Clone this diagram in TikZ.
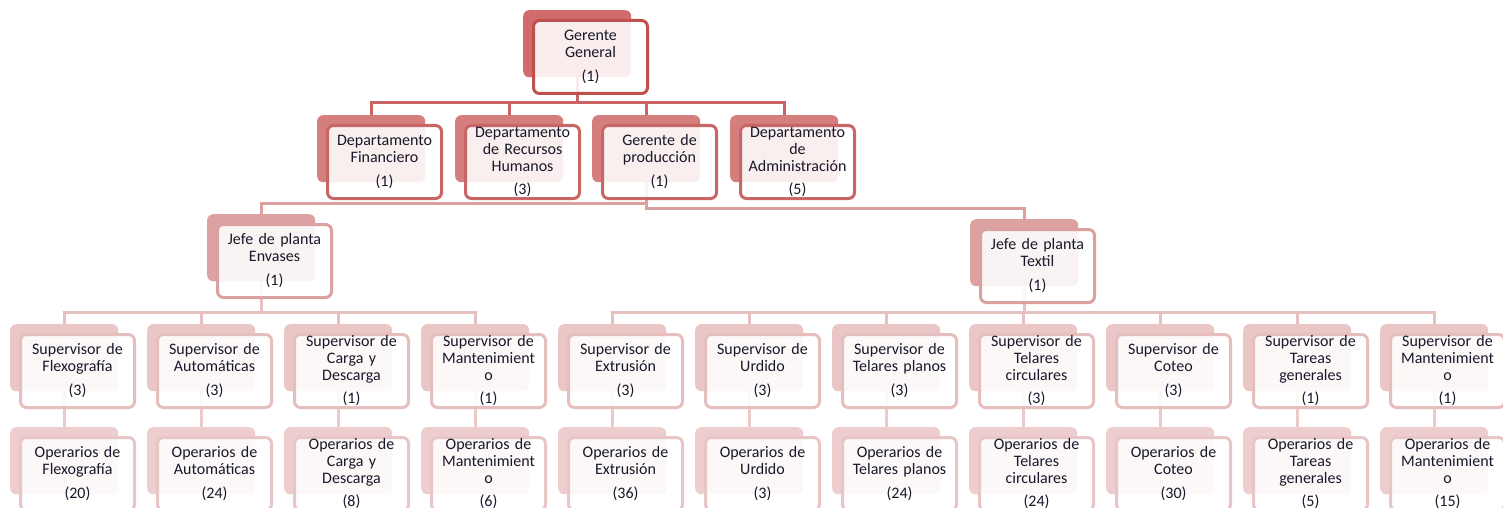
\documentclass[tikz,border=0pt]{standalone}
\usepackage{fontspec}
\setmainfont{Carlito}
\usetikzlibrary{backgrounds,calc}
\definecolor{txt}{HTML}{18182A}
\definecolor{bgA}{HTML}{D06C6C}\definecolor{brA}{HTML}{C0504D}
\definecolor{bgB}{HTML}{D47E7E}\definecolor{brB}{HTML}{C86666}
\definecolor{bgC}{HTML}{DCA2A2}\definecolor{brC}{HTML}{DBA0A0}
\definecolor{bgD}{HTML}{EBC6C6}\definecolor{brD}{HTML}{E6BEBE}
\definecolor{bgE}{HTML}{EDCDCD}\definecolor{brE}{HTML}{E9C6C6}
\definecolor{cnA}{HTML}{C96262}
\definecolor{cnB}{HTML}{DAA0A0}
\definecolor{cnC}{HTML}{E7C0C0}
\definecolor{cnD}{HTML}{EBCACA}
\tikzset{
  bgbox/.style={draw=none, fill=#1, rounded corners=6pt, minimum width=108pt,
    minimum height=67pt, inner sep=0pt, anchor=north west},
  frontbox/.style={draw=#1, line width=3pt, fill=white, fill opacity=0.88,
    text opacity=1, rounded corners=6pt, minimum width=114pt, minimum height=73pt,
    text width=112pt, inner sep=0pt, align=center, anchor=north west,
    font=\fontsize{16}{17}\selectfont, text=txt},
  conn/.style={draw=#1, line width=3pt},
}
\newcommand\orgunit[6]{%
  \node[bgbox=#4] (#1-b) at (#2,#3) {};
  \node[frontbox=#5] (#1) at ($(#1-b.north west)+(9,9)$) {#6};}
\begin{document}
\begin{tikzpicture}[x=1pt,y=-1pt]
\useasboundingbox (0,0) rectangle (1503,508);
\clip (0,0) rectangle (1503,508);
% level 1
\orgunit{gg}{523}{10}{bgA}{brA}{Gerente\\General\\[7pt](1)}
% level 2
\orgunit{fin}{317}{115}{bgB}{brB}{Departamento\\Financiero\\[7pt](1)}
\orgunit{rrhh}{455}{115}{bgB}{brB}{Departamento\\de Recursos\\Humanos\\[6pt](3)}
\orgunit{gdp}{592}{115}{bgB}{brB}{Gerente de\\producción\\[7pt](1)}
\orgunit{adm}{730}{115}{bgB}{brB}{Departamento\\de\\Administración\\[6pt](5)}
% level 3
\orgunit{env}{207}{214}{bgC}{brC}{Jefe de planta\\Envases\\[7pt](1)}
\orgunit{tex}{970}{219}{bgC}{brC}{Jefe de planta\\Textil\\[7pt](1)}
% level 4 supervisors
\orgunit{s1}{10}{324}{bgD}{brD}{Supervisor de\\Flexografía\\[7pt](3)}
\orgunit{s2}{147}{324}{bgD}{brD}{Supervisor de\\Automáticas\\[7pt](3)}
\orgunit{s3}{284}{324}{bgD}{brD}{Supervisor de\\Carga y\\Descarga\\[6pt](1)}
\orgunit{s4}{421}{324}{bgD}{brD}{Supervisor de\\Mantenimient\\o\\[6pt](1)}
\orgunit{s5}{558}{324}{bgD}{brD}{Supervisor de\\Extrusión\\[7pt](3)}
\orgunit{s6}{695}{324}{bgD}{brD}{Supervisor de\\Urdido\\[7pt](3)}
\orgunit{s7}{832}{324}{bgD}{brD}{Supervisor de\\Telares planos\\[7pt](3)}
\orgunit{s8}{969}{324}{bgD}{brD}{Supervisor de\\Telares\\circulares\\[6pt](3)}
\orgunit{s9}{1106}{324}{bgD}{brD}{Supervisor de\\Coteo\\[7pt](3)}
\orgunit{s10}{1243}{324}{bgD}{brD}{Supervisor de\\Tareas\\generales\\[6pt](1)}
\orgunit{s11}{1380}{324}{bgD}{brD}{Supervisor de\\Mantenimient\\o\\[6pt](1)}
% level 5 operarios
\orgunit{o1}{10}{427}{bgE}{brE}{Operarios de\\Flexografía\\[7pt](20)}
\orgunit{o2}{147}{427}{bgE}{brE}{Operarios de\\Automáticas\\[7pt](24)}
\orgunit{o3}{284}{427}{bgE}{brE}{Operarios de\\Carga y\\Descarga\\[6pt](8)}
\orgunit{o4}{421}{427}{bgE}{brE}{Operarios de\\Mantenimient\\o\\[6pt](6)}
\orgunit{o5}{558}{427}{bgE}{brE}{Operarios de\\Extrusión\\[7pt](36)}
\orgunit{o6}{695}{427}{bgE}{brE}{Operarios de\\Urdido\\[7pt](3)}
\orgunit{o7}{832}{427}{bgE}{brE}{Operarios de\\Telares planos\\[7pt](24)}
\orgunit{o8}{969}{427}{bgE}{brE}{Operarios de\\Telares\\circulares\\[6pt](24)}
\orgunit{o9}{1106}{427}{bgE}{brE}{Operarios de\\Coteo\\[7pt](30)}
\orgunit{o10}{1243}{427}{bgE}{brE}{Operarios de\\Tareas\\generales\\[6pt](5)}
\orgunit{o11}{1380}{427}{bgE}{brE}{Operarios de\\Mantenimient\\o\\[6pt](15)}
\begin{pgfonlayer}{background}
\fill[white] (0,0) rectangle (1503,508);
\foreach \c in {fin,rrhh,gdp,adm}
  \draw[conn=cnA] (gg-b.south) -- ++(0,25) -| (\c-b.north);
\draw[conn=cnB] (gdp-b.south) -- ++(0,21) -| (env-b.north);
\draw[conn=cnB] (gdp-b.south) -- ++(0,26) -| (tex-b.north);
\foreach \c in {s1,s2,s3,s4}
  \draw[conn=cnC] (env-b.south) -- ++(0,31) -| (\c-b.north);
\foreach \c in {s5,s6,s7,s8,s9,s10,s11}
  \draw[conn=cnC] (tex-b.south) -- ++(0,26) -| (\c-b.north);
\foreach \i in {1,...,11}
  \draw[conn=cnD] (s\i-b.south) -- (o\i-b.north);
\end{pgfonlayer}
\end{tikzpicture}
\end{document}
